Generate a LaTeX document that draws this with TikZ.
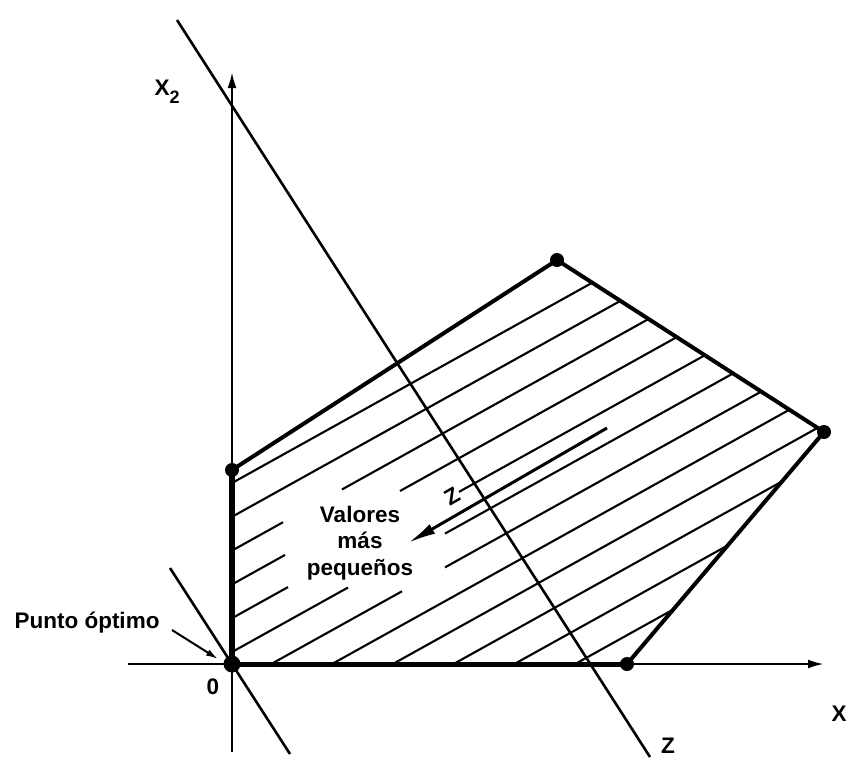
\documentclass[tikz,border=0pt]{standalone}
\usepackage{fontspec}
\setmainfont{Liberation Sans}
\usetikzlibrary{arrows.meta}

\tikzset{
  edge/.style={line width=4pt, line cap=round},
  axis/.style={line width=2.4pt, -{Latex[length=16pt,width=9pt]}},
  zline/.style={line width=2.6pt},
  hatch/.style={line width=2.1pt},
  lbl/.style={font=\fontsize{22.5}{26.5}\selectfont\bfseries},
  declare function={hy(\k,\x)=612+33.8*\k-0.556*\x;}
}

\begin{document}
\begin{tikzpicture}[x=1pt,y=-1pt]
\useasboundingbox (0,0) rectangle (846,758);
% corners of the region
\coordinate (O) at (232,664);
\coordinate (Q) at (232,470);
\coordinate (A) at (557,260);
\coordinate (B) at (824,432);
\coordinate (C) at (627,664);
% axes
\coordinate (ybot) at (232,752);
\coordinate (ytop) at (232,72);
\coordinate (xleft) at (128,664);
\coordinate (xright) at (824,664);
\draw[axis] (ybot) -- (ytop);
\draw[axis] (xleft) -- (xright);
% label on the hatching
\node[lbl, rotate=30, inner sep=1pt] (zmark) at (452,{hy(4,452)}) {Z};
% hatching
\begin{scope}
 \clip (O) -- (Q) -- (A) -- (B) -- (C) -- cycle;
 \foreach \k in {0,1,7,8,9,10,11}
   \draw[hatch] (200,{hy(\k,200)}) -- (850,{hy(\k,850)});
 \foreach \k/\xa/\xb in {2/283/342,3/285/400,5/348/445,6/402/445}{
   \draw[hatch] (200,{hy(\k,200)}) -- (\xa,{hy(\k,\xa)});
   \draw[hatch] (\xb,{hy(\k,\xb)}) -- (850,{hy(\k,850)});
 }
 \draw[hatch] (200,{hy(4,200)}) -- (288,{hy(4,288)});
 \draw[hatch] (zmark.east) -- (850,{hy(4,850)});
\end{scope}
% boundary
\draw[edge, line width=5.5pt] (O) -- (Q);
\draw[edge, line width=5pt] (O) -- (C);
\draw[edge] (Q) -- (A) -- (B) -- (C);
\foreach \p in {Q,A,B,C} \fill (\p) circle (7pt);
\fill (O) circle (8.5pt);
% objective lines
\coordinate (ztop) at (177,20);
\coordinate (zbot) at (650,757);
\draw[zline] (ztop) -- (zbot);
\coordinate (otop) at (170,568);
\coordinate (obot) at (290,754);
\draw[zline] (otop) -- (obot);
% direction of smaller values
\coordinate (arrtail) at (607,428);
\coordinate (arrtip) at (408,543);
\draw[line width=3pt, -{Latex[length=28pt,width=11pt]}] (arrtail) -- (arrtip);
\node[lbl, align=center] (valores) at (360,543) {Valores\\más\\pequeños};
% labels
\node[lbl, anchor=base west] (punto) at (11,628) {Punto óptimo};
\coordinate (ptail) at (172,630);
\coordinate (ptip) at (218,659);
\draw[line width=2pt, -{Latex[length=12pt,width=7pt]}] (ptail) -- (ptip);
\node[lbl] (zero) at (213,687) {0};
\node[lbl, anchor=base west] (x2) at (151,95) {X\raisebox{-8pt}{\fontsize{18}{18}\selectfont 2}};
\node[lbl, anchor=base west] (x1) at (828,721) {X};
\node[lbl, anchor=base] (zlab) at (668,753) {Z};
\end{tikzpicture}
\end{document}
